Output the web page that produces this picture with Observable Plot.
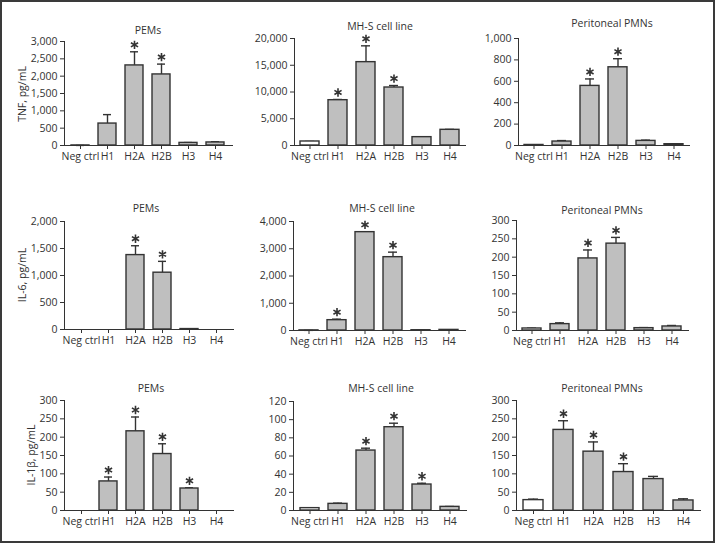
<!DOCTYPE html>
<html>
<head>
<meta charset="utf-8">
<script src="https://cdn.jsdelivr.net/npm/d3@7"></script>
<script src="https://cdn.jsdelivr.net/npm/@observablehq/plot@0.6"></script>
<style>
  body { margin: 0; background: #fff; }
  #fig { position: relative; width: 716px; height: 543px; font-family: "Open Sans", sans-serif; color: #333; }
  #border { position: absolute; left: 0; top: 0; width: 715px; height: 543px; box-sizing: border-box; border: 2px solid #3a3a3a; pointer-events: none; }
  .panel { position: absolute; }
  .title { position: absolute; transform: translate(-50%, -50%); font-size: 10.5px; line-height: 12px; white-space: nowrap; color: #333; }
  .ylab { position: absolute; transform: translate(-50%, -50%) rotate(-90deg); font-size: 10.5px; line-height: 12px; white-space: nowrap; color: #333; }
</style>
</head>
<body>
<div id="fig"><div id="border"></div></div>
<script>
// ---------- data ----------
const categories = ["Neg ctrl", "H1", "H2A", "H2B", "H3", "H4"];
const cellTypes = ["PEMs", "MH-S cell line", "Peritoneal PMNs"];
const cytokineLabels = ["TNF, pg/mL", "IL-6, pg/mL", "IL-1β, pg/mL"];

// TNF
const tnfPEMs      = [2, 633, 2310, 2050, 75, 88];
const tnfPEMsSem   = [0, 258, 393, 298, 10, 22];
const tnfPEMsSig   = [0, 0, 1, 1, 0, 0];
const tnfPEMsTicks = [0, 500, 1000, 1500, 2000, 2500, 3000];

const tnfMHS      = [750, 8470, 15580, 10840, 1560, 2930];
const tnfMHSSem   = [0, 130, 3050, 370, 60, 80];
const tnfMHSSig   = [0, 1, 1, 1, 0, 0];
const tnfMHSTicks = [0, 5000, 10000, 15000, 20000];

const tnfPMN      = [5, 37, 557, 731, 43, 12];
const tnfPMNSem   = [1, 9, 65, 80, 7, 3];
const tnfPMNSig   = [0, 0, 1, 1, 0, 0];
const tnfPMNTicks = [0, 200, 400, 600, 800, 1000];

// IL-6
const il6PEMs      = [0, 0, 1378, 1052, 8, 0];
const il6PEMsSem   = [0, 0, 173, 210, 0, 0];
const il6PEMsSig   = [0, 0, 1, 1, 0, 0];
const il6PEMsTicks = [0, 500, 1000, 1500, 2000];

const il6MHS      = [5, 379, 3609, 2691, 10, 22];
const il6MHSSem   = [0, 37, 12, 184, 0, 5];
const il6MHSSig   = [0, 1, 1, 1, 0, 0];
const il6MHSTicks = [0, 1000, 2000, 3000, 4000];

const il6PMN      = [5.5, 17.4, 196.6, 236.9, 6.4, 11];
const il6PMNSem   = [0.9, 3.5, 23, 17, 1.5, 2.7];
const il6PMNSig   = [0, 0, 1, 1, 0, 0];
const il6PMNTicks = [0, 50, 100, 150, 200, 250, 300];

// IL-1β
const il1bPEMs      = [0, 79.3, 216, 154, 60, 0];
const il1bPEMsSem   = [0, 12, 39, 28, 2, 0];
const il1bPEMsSig   = [0, 1, 1, 1, 1, 0];
const il1bPEMsTicks = [0, 50, 100, 150, 200, 250, 300];

const il1bMHS      = [2.6, 7.3, 66, 91.7, 28.6, 4];
const il1bMHSSem   = [0.3, 0.8, 2.6, 4.4, 1.4, 0.4];
const il1bMHSSig   = [0, 0, 1, 1, 1, 0];
const il1bMHSTicks = [0, 20, 40, 60, 80, 100, 120];

const il1bPMN      = [28.3, 219.8, 160.5, 104.9, 85.7, 27.4];
const il1bPMNSem   = [2.7, 25, 26.5, 22.8, 7.3, 4.5];
const il1bPMNSig   = [0, 1, 1, 1, 0, 0];
const il1bPMNTicks = [0, 50, 100, 150, 200, 250, 300];

const panelData = [
  [tnfPEMs, tnfPEMsSem, tnfPEMsSig, tnfPEMsTicks],
  [tnfMHS, tnfMHSSem, tnfMHSSig, tnfMHSTicks],
  [tnfPMN, tnfPMNSem, tnfPMNSig, tnfPMNTicks],
  [il6PEMs, il6PEMsSem, il6PEMsSig, il6PEMsTicks],
  [il6MHS, il6MHSSem, il6MHSSig, il6MHSTicks],
  [il6PMN, il6PMNSem, il6PMNSig, il6PMNTicks],
  [il1bPEMs, il1bPEMsSem, il1bPEMsSig, il1bPEMsTicks],
  [il1bMHS, il1bMHSSem, il1bMHSSig, il1bMHSTicks],
  [il1bPMN, il1bPMNSem, il1bPMNSig, il1bPMNTicks]
];

// ---------- layout (page pixels) ----------
// [axisX, xEnd, yTop, yZero, titleX, titleY]
const layout = [
  [64, 232, 41, 145, 148, 30],
  [294, 465, 38, 145, 380, 26],
  [518, 689, 38, 145, 612, 23],
  [64, 233, 221, 329, 146, 208],
  [293, 465, 221, 330, 382, 208],
  [516, 688, 220, 330, 602, 210],
  [64, 233, 400, 510, 151, 388],
  [293, 466, 401, 510, 381, 388],
  [516, 700, 400, 510, 602, 388]
];
const ylabPos = [[22, 94], [22, 275], [31, 455]];

const fig = document.getElementById("fig");
const mL = 44, mR = 6, mT = 24, mB = 26;
const fmt = d3.format(",d");

panelData.forEach(([vals, sems, sig, ticks], i) => {
  const [ax, xe, yt, y0, tx, ty] = layout[i];
  const rows = categories.map((c, j) => ({cat: c, value: vals[j], top: vals[j] + sems[j], sig: sig[j]}));
  const width = mL + (xe - ax) + mR;
  const height = mT + (y0 - yt) + mB;
  const chart = Plot.plot({
    width, height,
    marginLeft: mL, marginRight: mR, marginTop: mT, marginBottom: mB,
    style: {fontFamily: "'Open Sans', sans-serif", fontSize: "10.5px", color: "#333", background: "transparent", overflow: "visible"},
    x: {domain: categories, paddingInner: 0.32, paddingOuter: 0.2, align: 0.5, label: null, tickSize: 4, tickPadding: 3, line: true},
    y: {domain: [0, ticks[ticks.length - 1]], ticks: ticks, tickFormat: fmt, label: null, tickSize: 4, tickPadding: 3, line: true},
    color: {type: "identity"},
    marks: [
      Plot.ruleX(rows.filter(d => d.top > d.value), {x: "cat", y1: "value", y2: "top", stroke: "#333", strokeWidth: 1.4}),
      Plot.tickY(rows.filter(d => d.value > 0), {x: "cat", y: "top", stroke: "#333", strokeWidth: 1.4, insetLeft: 5, insetRight: 5}),
      Plot.barY(rows, {x: "cat", y: "value", fill: d => d.cat === "Neg ctrl" ? "#ffffff" : "#bfbfbf", stroke: "#333", strokeWidth: 1.4}),
      Plot.dot(rows.filter(d => d.sig), {x: "cat", y: "top", symbol: "asterisk", r: 3.9, dy: -7, stroke: "#333", strokeWidth: 1.6})
    ]
  });
  const div = document.createElement("div");
  div.className = "panel";
  div.style.left = (ax - mL) + "px";
  div.style.top = (yt - mT) + "px";
  div.appendChild(chart);
  fig.appendChild(div);

  const t = document.createElement("div");
  t.className = "title";
  t.style.left = tx + "px";
  t.style.top = ty + "px";
  t.textContent = cellTypes[i % 3];
  fig.appendChild(t);
});

ylabPos.forEach(([x, y], r) => {
  const l = document.createElement("div");
  l.className = "ylab";
  l.style.left = x + "px";
  l.style.top = y + "px";
  l.textContent = cytokineLabels[r];
  fig.appendChild(l);
});
</script>
</body>
</html>
